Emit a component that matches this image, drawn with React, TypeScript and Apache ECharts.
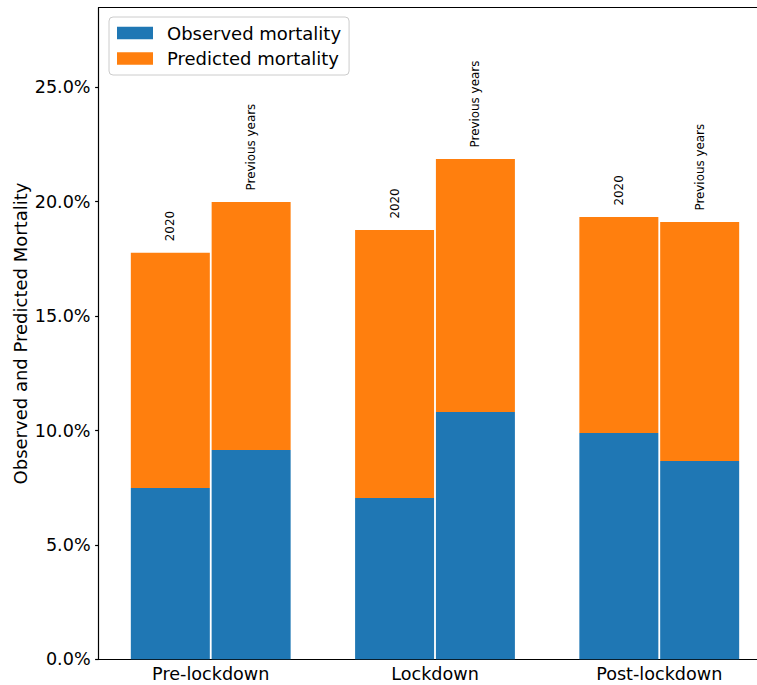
import React, { useEffect, useRef } from "react";
import * as echarts from "echarts";

const categories = ["Pre-lockdown", "Lockdown", "Post-lockdown"];
const observed2020 = [7.49, 7.05, 9.89];
const predicted2020 = [10.28, 11.71, 9.44];
const observedPrev = [9.15, 10.81, 8.67];
const predictedPrev = [10.84, 11.06, 10.44];
const yTicks = [0, 5, 10, 15, 20, 25];
const yMax = 28.48;
const barLabels = ["2020", "Previous years"];
const seriesNames = ["Observed mortality", "Predicted mortality"];
const yAxisTitle = "Observed and Predicted Mortality";

const BLUE = "#1f77b4";
const ORANGE = "#ff7f0e";
const FONT = "DejaVu Sans";

export default function App() {
  const ref = useRef<HTMLDivElement>(null);
  useEffect(() => {
    const chart = echarts.init(ref.current as HTMLDivElement, null, { renderer: "svg" });
    const mkLabel = (text: string) => ({
      show: true,
      position: "top",
      distance: 11.5,
      rotate: 90,
      align: "left",
      verticalAlign: "middle",
      formatter: text,
      fontSize: 11.9,
      fontFamily: FONT,
      color: "#000",
    });
    const base = { type: "bar", barWidth: 79, barGap: "2.3%", xAxisIndex: 0 };
    const spine = { lineStyle: { color: "#000", width: 1.2 } };
    chart.setOption({
      animation: false,
      grid: {
        left: 98.6,
        top: 7.7,
        width: 672.8,
        height: 651.6,
        outerBoundsMode: "none",
        containLabel: false,
        show: false,
      },
      legend: {
        data: seriesNames,
        orient: "vertical",
        left: 109,
        top: 17,
        icon: "rect",
        itemWidth: 36,
        itemHeight: 12.5,
        itemGap: 7.5,
        padding: [7, 8, 7.5, 8],
        backgroundColor: "rgba(255,255,255,0.8)",
        borderColor: "#cccccc",
        borderWidth: 1,
        borderRadius: 4,
        selectedMode: false,
        textStyle: {
          fontSize: 18,
          lineHeight: 18,
          fontFamily: FONT,
          color: "#000",
          padding: [0, 0, 0, 9],
        },
      },
      xAxis: [
        {
          type: "category",
          data: categories,
          axisLine: spine,
          axisTick: { alignWithLabel: true, length: 3.5, lineStyle: { color: "#000", width: 1.2 } },
          axisLabel: { fontSize: 17.6, color: "#000", fontFamily: FONT, margin: 6 },
          splitLine: { show: false },
        },
        {
          type: "category",
          position: "top",
          data: categories,
          axisLine: spine,
          axisTick: { show: false },
          axisLabel: { show: false },
          splitLine: { show: false },
        },
      ],
      yAxis: {
        type: "value",
        min: 0,
        max: yMax,
        interval: 5,
        name: yAxisTitle,
        nameLocation: "middle",
        nameGap: 69,
        nameMoveOverlap: false,
        nameTextStyle: { fontSize: 18, color: "#000", fontFamily: FONT },
        axisLine: { show: true, ...spine },
        axisTick: { show: true, length: 3.5, customValues: yTicks, lineStyle: { color: "#000", width: 1.2 } },
        axisLabel: {
          fontSize: 17.6,
          color: "#000",
          fontFamily: FONT,
          margin: 8,
          customValues: yTicks,
          formatter: (v: number) => (yTicks.indexOf(v) >= 0 ? v.toFixed(1) + "%" : ""),
        },
        splitLine: { show: false },
      },
      series: [
        { ...base, name: seriesNames[0], stack: "2020", data: observed2020, itemStyle: { color: BLUE } },
        { ...base, name: seriesNames[1], stack: "2020", data: predicted2020, itemStyle: { color: ORANGE }, label: mkLabel(barLabels[0]) },
        { ...base, name: seriesNames[0], stack: "prev", data: observedPrev, itemStyle: { color: BLUE } },
        { ...base, name: seriesNames[1], stack: "prev", data: predictedPrev, itemStyle: { color: ORANGE }, label: mkLabel(barLabels[1]) },
      ],
    });
    return () => chart.dispose();
  }, []);
  return (
    <div
      style={{ position: "absolute", left: 0, top: 0, width: 757, height: 685, overflow: "hidden", background: "#fff" }}
    >
      <div ref={ref} style={{ width: 790, height: 685 }} />
    </div>
  );
}
